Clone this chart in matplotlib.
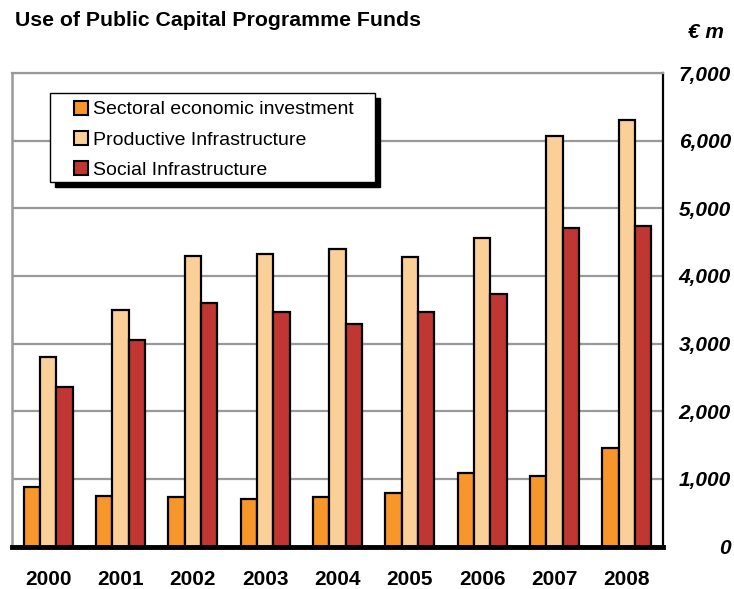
import numpy as np
import matplotlib
matplotlib.use("Agg")
import matplotlib.pyplot as plt
from matplotlib.patches import Rectangle

plt.rcParams["font.family"] = ["Liberation Sans", "DejaVu Sans"]

# ---- Data (EUR m) ----
years = ["2000", "2001", "2002", "2003", "2004", "2005", "2006", "2007", "2008"]
sectoral = [873, 744, 731, 701, 727, 788, 1084, 1036, 1460]
productive = [2808, 3498, 4297, 4317, 4401, 4287, 4564, 6062, 6309]
social = [2364, 3055, 3598, 3464, 3287, 3469, 3731, 4707, 4731]

series_names = ["Sectoral economic investment", "Productive Infrastructure", "Social Infrastructure"]
colors = ["#F7962A", "#FACF98", "#C03633"]
yticks = [0, 1000, 2000, 3000, 4000, 5000, 6000, 7000]

W, H = 734, 589
fig = plt.figure(figsize=(W / 100, H / 100), dpi=100)
ax = fig.add_axes([12 / W, 1 - 546.5 / H, 651 / W, 473.5 / H])

x = np.arange(len(years))
w = 0.225
handles = []
for i, (vals, name, c) in enumerate(zip([sectoral, productive, social], series_names, colors)):
    b = ax.bar(x + (i - 1) * w, vals, w, color=c, edgecolor="black", linewidth=1.6,
               label=name, zorder=3)
    handles.append(b)

ax.set_xlim(-0.5, len(years) - 0.5)
ax.set_ylim(0, 7000)
ax.set_yticks(yticks)
ax.set_yticklabels([f"{v:,}" for v in yticks], fontsize=15, fontweight="bold",
                   fontstyle="italic", ha="right")
ax.yaxis.tick_right()
ax.tick_params(axis="y", length=0, pad=49)
ax.set_xticks(x)
ax.set_xticklabels(years, fontsize=15, fontweight="bold")
ax.tick_params(axis="x", length=0, pad=17)

ax.grid(axis="y", color="#999999", linewidth=1.6, zorder=0)
ax.spines["left"].set_color("#999999")
ax.spines["left"].set_linewidth(1.8)
ax.spines["top"].set_color("#999999")
ax.spines["top"].set_linewidth(1.6)
ax.spines["right"].set_color("black")
ax.spines["right"].set_linewidth(1.6)
ax.spines["bottom"].set_color("black")
ax.spines["bottom"].set_linewidth(3.5)
ax.spines["bottom"].set_zorder(5)

# ---- Legend box with solid black shadow ----
bx0, by0, bx1, by1 = 50, 93, 375, 182
shadow = Rectangle((bx0 + 5, H - by1 - 5), bx1 - bx0, by1 - by0, transform=None,
                   facecolor="black", edgecolor="black", zorder=8)
box = Rectangle((bx0, H - by1), bx1 - bx0, by1 - by0, transform=None,
                facecolor="white", edgecolor="black", linewidth=1.0, zorder=9)
fig.add_artist(shadow)
fig.add_artist(box)

leg = fig.legend(handles, series_names, loc="upper left",
                 bbox_to_anchor=(70 / W, 1 - 97 / H), borderaxespad=0, borderpad=0.2,
                 fontsize=14, frameon=False, handlelength=0.7, handleheight=0.7,
                 handletextpad=0.3, labelspacing=0.65)
leg.set_zorder(10)
for h in leg.legend_handles:
    h.set_linewidth(1.5)

fig.text(15 / W, 1 - 20 / H, "Use of Public Capital Programme Funds",
         fontsize=15.3, fontweight="bold", va="center", ha="left")
fig.text(724 / W, 1 - 33 / H, "€ m", fontsize=15, fontweight="bold",
         fontstyle="italic", va="center", ha="right")

fig.savefig("out.png", dpi=100)
